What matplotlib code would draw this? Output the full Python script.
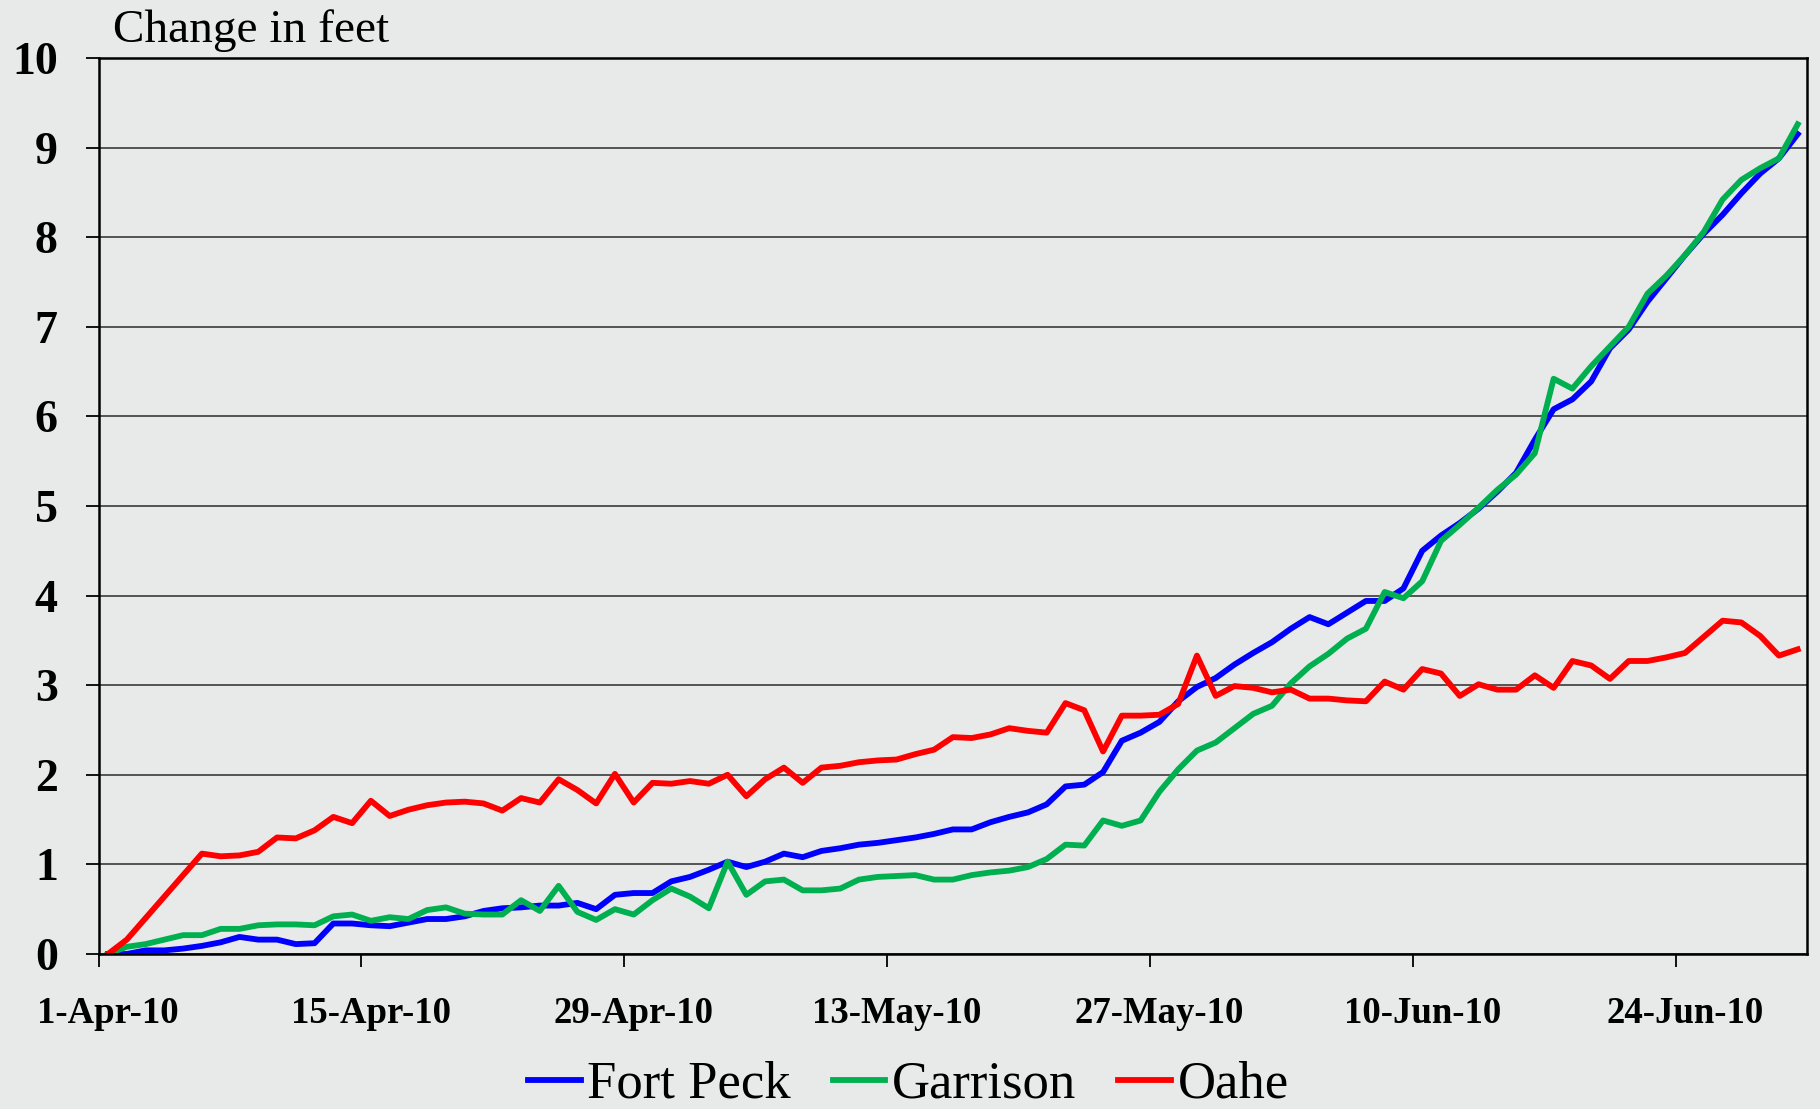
import numpy as np
import pandas as pd
import matplotlib
matplotlib.use('Agg')
import matplotlib.pyplot as plt

# daily change in pool elevation, 1-Apr-10 .. 30-Jun-10
dates = pd.date_range('2010-04-01', '2010-06-30', freq='D')

fort_peck = [0.00, 0.00, 0.04, 0.04, 0.06, 0.09, 0.13, 0.19, 0.16, 0.16,
             0.11, 0.12, 0.34, 0.34, 0.32, 0.31, 0.35, 0.39, 0.39, 0.42,
             0.48, 0.51, 0.52, 0.54, 0.54, 0.57, 0.50, 0.66, 0.68, 0.68,
             0.81, 0.86, 0.94, 1.03, 0.97, 1.03, 1.12, 1.08, 1.15, 1.18,
             1.22, 1.24, 1.27, 1.30, 1.34, 1.39, 1.39, 1.47, 1.53, 1.58,
             1.67, 1.87, 1.89, 2.03, 2.38, 2.47, 2.59, 2.82, 2.98, 3.08,
             3.23, 3.36, 3.48, 3.63, 3.76, 3.68, 3.81, 3.94, 3.94, 4.08,
             4.50, 4.67, 4.81, 4.97, 5.16, 5.37, 5.74, 6.08, 6.19, 6.39,
             6.76, 6.97, 7.28, 7.54, 7.80, 8.04, 8.25, 8.49, 8.71, 8.88,
             9.15]

garrison = [0.00, 0.08, 0.11, 0.16, 0.21, 0.21, 0.28, 0.28, 0.32, 0.33,
            0.33, 0.32, 0.42, 0.44, 0.37, 0.41, 0.39, 0.49, 0.52, 0.45,
            0.44, 0.44, 0.60, 0.48, 0.76, 0.47, 0.38, 0.50, 0.44, 0.60,
            0.73, 0.64, 0.51, 1.03, 0.66, 0.81, 0.83, 0.71, 0.71, 0.73,
            0.83, 0.86, 0.87, 0.88, 0.83, 0.83, 0.88, 0.91, 0.93, 0.97,
            1.06, 1.22, 1.21, 1.49, 1.43, 1.49, 1.81, 2.06, 2.27, 2.36,
            2.52, 2.68, 2.77, 3.02, 3.21, 3.35, 3.52, 3.63, 4.04, 3.97,
            4.16, 4.61, 4.79, 4.98, 5.18, 5.35, 5.59, 6.42, 6.31, 6.56,
            6.78, 7.00, 7.37, 7.57, 7.80, 8.06, 8.42, 8.64, 8.77, 8.88,
            9.26]

oahe = [0.00, 0.16, 0.40, 0.64, 0.88, 1.12, 1.09, 1.10, 1.14, 1.30,
        1.29, 1.38, 1.53, 1.46, 1.71, 1.54, 1.61, 1.66, 1.69, 1.70,
        1.68, 1.60, 1.74, 1.69, 1.95, 1.83, 1.68, 2.01, 1.69, 1.91,
        1.90, 1.93, 1.90, 2.00, 1.76, 1.95, 2.08, 1.91, 2.08, 2.10,
        2.14, 2.16, 2.17, 2.23, 2.28, 2.42, 2.41, 2.45, 2.52, 2.49,
        2.47, 2.80, 2.72, 2.26, 2.66, 2.66, 2.67, 2.79, 3.33, 2.88,
        2.99, 2.97, 2.92, 2.95, 2.85, 2.85, 2.83, 2.82, 3.04, 2.95,
        3.18, 3.13, 2.88, 3.01, 2.95, 2.95, 3.11, 2.97, 3.27, 3.22,
        3.07, 3.27, 3.27, 3.31, 3.36, 3.54, 3.72, 3.70, 3.55, 3.33,
        3.40]

series = [('Fort Peck', fort_peck, '#0000ff'),
          ('Garrison', garrison, '#00b050'),
          ('Oahe', oahe, '#ff0000')]

plt.rcParams['font.family'] = ['Liberation Serif', 'DejaVu Serif']

fig = plt.figure(figsize=(18.2, 11.09), dpi=100, facecolor='#e8eae9')
ax = fig.add_axes([0.0542, 0.1398, 0.9387, 0.8079])
ax.set_facecolor('none')

x = np.arange(len(dates))
for name, vals, col in series:
    ax.plot(x, vals, color=col, lw=4.2, label=name)

ax.set_xlim(-0.5, len(dates) - 0.5)
ax.set_ylim(0, 10)
ax.set_yticks(range(11))
ax.yaxis.grid(True, color='#3a3a3a', lw=1.2)
ax.set_axisbelow(True)

# tick marks sit between days, labels sit on the day
pos = x[::14]
ax.set_xticks(pos - 0.5)
ax.set_xticklabels([])
ax.set_xticks(pos, minor=True)
ax.set_xticklabels(['%d-%s' % (d.day, d.strftime('%b-%y')) for d in dates[::14]],
                   minor=True, fontsize=26.5, fontweight='bold')
ax.tick_params(axis='x', which='major', length=9.4, width=1.3, direction='out')
ax.tick_params(axis='x', which='minor', length=0, pad=30)
ax.tick_params(axis='y', length=9.4, width=1.3, pad=20, labelsize=33)
for lbl in ax.get_yticklabels():
    lbl.set_fontweight('bold')

for sp in ax.spines.values():
    sp.set_linewidth(1.8)
    sp.set_color('black')

fig.text(113 / 1820, 1 - 42 / 1109, 'Change in feet', fontsize=34, va='baseline')

fig.legend(loc='center', bbox_to_anchor=(0.499, 24 / 1109), ncol=3, frameon=False,
           fontsize=38, handlelength=1.0, handletextpad=0.12, columnspacing=0.8,
           borderpad=0)

fig.savefig('out.png', dpi=100, facecolor=fig.get_facecolor())
